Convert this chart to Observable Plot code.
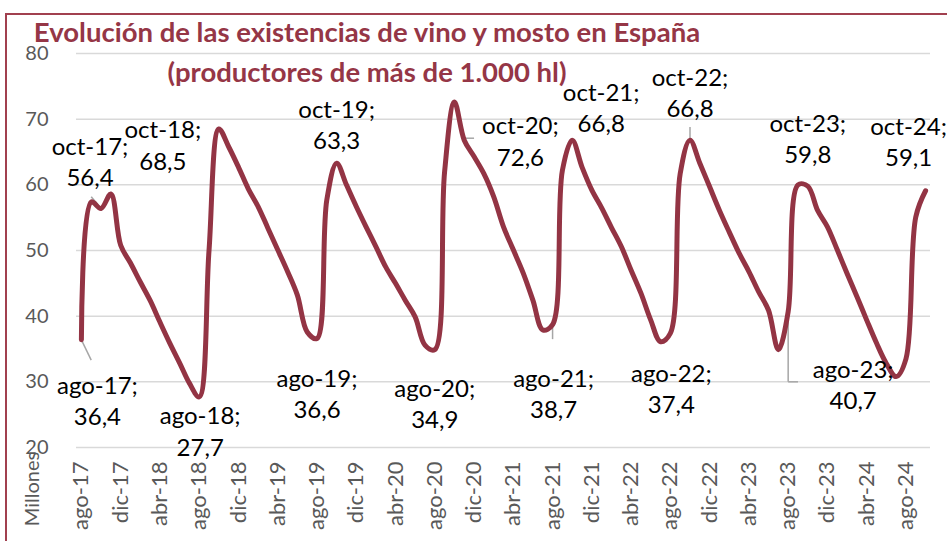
<!DOCTYPE html>
<html>
<head>
<meta charset="utf-8">
<script src="https://cdn.jsdelivr.net/npm/d3@7"></script>
<script src="https://cdn.jsdelivr.net/npm/@observablehq/plot@0.6"></script>
<style>
  html, body { margin: 0; padding: 0; background: #fff; }
  #wrap { position: relative; width: 947px; height: 541px; overflow: hidden; font-family: Lato, "Open Sans", sans-serif; }
  #frame { position: absolute; left: 5px; top: 13px; width: 960px; height: 560px; border-top: 2px solid #a1404f; border-left: 2px solid #a1404f; }
  #chart { position: absolute; left: 0; top: 0; }
  .title { position: absolute; left: 0; width: 734px; text-align: center; color: #953646; font-weight: 700; font-size: 27.5px; line-height: 34px; white-space: nowrap; }
  #t1 { top: 15px; }
  #t2 { top: 55px; }
  #ylab { position: absolute; left: 31px; top: 489px; transform: translate(-50%, -50%) rotate(-90deg); color: #595959; font-size: 20px; white-space: nowrap; }
</style>
</head>
<body>
<div id="wrap">
  <div id="frame"></div>
  <div id="chart"></div>
  <div class="title" id="t1">Evolución de las existencias de vino y mosto en España</div>
  <div class="title" id="t2">(productores de más de 1.000 hl)</div>
  <div id="ylab">Millones</div>
</div>
<script>
// Categories (monthly, ago-17 .. oct-24)
const months = [
  "ago-17","sep-17","oct-17","nov-17","dic-17",
  "ene-18","feb-18","mar-18","abr-18","may-18","jun-18","jul-18","ago-18","sep-18","oct-18","nov-18","dic-18",
  "ene-19","feb-19","mar-19","abr-19","may-19","jun-19","jul-19","ago-19","sep-19","oct-19","nov-19","dic-19",
  "ene-20","feb-20","mar-20","abr-20","may-20","jun-20","jul-20","ago-20","sep-20","oct-20","nov-20","dic-20",
  "ene-21","feb-21","mar-21","abr-21","may-21","jun-21","jul-21","ago-21","sep-21","oct-21","nov-21","dic-21",
  "ene-22","feb-22","mar-22","abr-22","may-22","jun-22","jul-22","ago-22","sep-22","oct-22","nov-22","dic-22",
  "ene-23","feb-23","mar-23","abr-23","may-23","jun-23","jul-23","ago-23","sep-23","oct-23","nov-23","dic-23",
  "ene-24","feb-24","mar-24","abr-24","may-24","jun-24","jul-24","ago-24","sep-24","oct-24"
];
// Existencias (millones hl)
const values = [
  36.4, 57.4, 56.4, 58.6, 50.8,
  48.1, 45.2, 42.4, 39.1, 35.9, 32.9, 29.8, 27.7, 50.0, 68.5, 65.8, 62.7,
  59.4, 56.7, 53.4, 50.1, 46.8, 43.2, 37.6, 36.6, 57.7, 63.3, 60.0, 56.7,
  53.6, 50.6, 47.5, 45.0, 42.4, 39.9, 35.6, 34.9, 62.0, 72.6, 66.8, 64.3,
  61.7, 58.2, 53.6, 50.1, 46.6, 42.4, 37.9, 38.7, 62.2, 66.8, 62.7, 59.2,
  56.5, 53.5, 50.6, 47.0, 43.5, 39.4, 36.1, 37.4, 61.7, 66.8, 63.3, 59.7,
  56.1, 52.8, 49.6, 46.8, 43.7, 40.9, 34.9, 40.7, 60.0, 59.8, 56.1, 53.6,
  50.1, 46.5, 43.0, 39.4, 35.9, 32.8, 30.8, 33.5, 55.1, 59.1
];
// Axis ticks
const xTickLabels = months.filter((d, i) => i % 4 === 0);
const yTicks = [20, 30, 40, 50, 60, 70, 80];

// Labelled months and label offsets (px)
const labelMonths = ["oct-17","oct-18","oct-19","oct-20","oct-21","oct-22","oct-23","oct-24",
                     "ago-17","ago-18","ago-19","ago-20","ago-21","ago-22","ago-23"];
const labelDx = [-11, -56, 0, 66, 29, 0, 0, -17, 16, 1, 0, 0, 1, 1, 65];
const labelDy = [-48, 15, -40, 38, -34, -49, -49, -50, 60, 33, 54, 53, 68, 54, 72];

const data = months.map((m, i) => ({m, v: values[i]}));
const valueOf = m => values[months.indexOf(m)];
const fmt = v => v.toFixed(1).replace(".", ",");

const lineColor = "#933444";
const leaderColor = "#a6a6a6";

const labelMarks = labelMonths.map((m, i) =>
  Plot.text([{m, v: valueOf(m)}], {
    x: "m", y: "v",
    text: d => `${d.m};\n${fmt(d.v)}`,
    dx: labelDx[i], dy: labelDy[i],
    fontSize: 24, lineHeight: 1.3, fill: "#000"
  })
);

// Leader lines (in data terms)
const leaders = [
  {m1: "ago-17", v1: valueOf("ago-17"), m2: "sep-17", v2: 33.3},
  {m1: "sep-17", v1: 58.2, m2: "oct-17", v2: valueOf("oct-17")},
  {m1: "oct-20", v1: valueOf("oct-20"), m2: "nov-20", v2: 67.1},
  {m1: "nov-20", v1: 67.1, m2: "dic-20", v2: 67.1},
  {m1: "ago-21", v1: valueOf("ago-21"), m2: "ago-21", v2: 36.5},
  {m1: "oct-22", v1: valueOf("oct-22"), m2: "oct-22", v2: 68.8},
  {m1: "ago-23", v1: valueOf("ago-23"), m2: "ago-23", v2: 30.0},
  {m1: "ago-23", v1: 30.0, m2: "sep-23", v2: 30.0}
];

const chart = Plot.plot({
  width: 947, height: 541,
  marginLeft: 76, marginRight: 17, marginTop: 53, marginBottom: 94,
  style: {fontFamily: "Lato, 'Open Sans', sans-serif", background: "transparent"},
  x: {type: "point", domain: months, padding: 0.5},
  y: {domain: [20, 80]},
  marks: [
    Plot.gridY(yTicks, {stroke: "#d9d9d9", strokeOpacity: 1, strokeWidth: 1.5}),
    Plot.axisY(yTicks, {tickSize: 0, tickPadding: 28, fontSize: 20, fill: "#595959", label: null}),
    Plot.axisX(xTickLabels, {tickSize: 0, tickPadding: 14, tickRotate: -90, fontSize: 22, fill: "#595959", label: null}),
    Plot.link(leaders, {x1: "m1", y1: "v1", x2: "m2", y2: "v2", stroke: leaderColor, strokeWidth: 1.5}),
    Plot.line(data, {x: "m", y: "v", stroke: lineColor, strokeWidth: 5, curve: "catmull-rom", strokeLinejoin: "round", strokeLinecap: "round"}),
    ...labelMarks
  ]
});
document.getElementById("chart").appendChild(chart);
</script>
</body>
</html>
